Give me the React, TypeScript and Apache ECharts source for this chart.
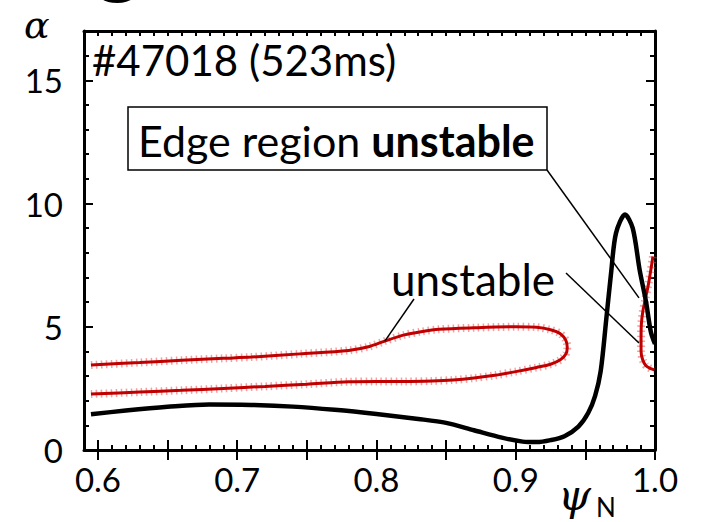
import React, { useEffect, useRef } from "react";
import * as echarts from "echarts";

// ψN / α axis ranges and tick labels
const xTickLabels = [0.6, 0.7, 0.8, 0.9, 1.0];
const xMajorTicks = [0.6, 0.65, 0.7, 0.75, 0.8, 0.85, 0.9, 0.95, 1.0];
const yTickLabels = [0, 5, 10, 15];
const yMajorTicks = [0, 5, 10, 15];

// Equilibrium pressure-gradient profile α(ψN)
const profilePsi = [
  0.595, 0.62, 0.65, 0.68, 0.71, 0.74, 0.77, 0.8, 0.83, 0.85, 0.87, 0.89, 0.905, 0.915,
  0.925, 0.935, 0.945, 0.952, 0.957, 0.961, 0.965, 0.9685, 0.972, 0.9785, 0.984, 0.989,
  0.9936, 0.997, 1.0,
];
const profileAlpha = [
  1.45, 1.6, 1.75, 1.85, 1.83, 1.76, 1.63, 1.46, 1.26, 1.1, 0.8, 0.5, 0.34, 0.32,
  0.4, 0.56, 0.95, 1.5, 2.2, 3.2, 5.3, 7.2, 8.8, 9.55, 9.0, 7.3,
  6.0, 4.8, 4.3,
];

// Marginal-stability boundary, core unstable band (upper branch → tip → lower branch)
const corePsi = [
  0.595, 0.63, 0.66, 0.69, 0.71, 0.745, 0.78, 0.795, 0.806, 0.82, 0.832, 0.845, 0.87, 0.9,
  0.915, 0.925, 0.932, 0.936, 0.937, 0.936, 0.932, 0.925, 0.915, 0.9, 0.885, 0.87, 0.855,
  0.84, 0.82, 0.8, 0.78, 0.75, 0.72, 0.69, 0.66, 0.63, 0.595,
];
const coreAlpha = [
  3.45, 3.55, 3.64, 3.72, 3.77, 3.9, 4.04, 4.2, 4.42, 4.67, 4.8, 4.9, 4.96, 5.0,
  4.98, 4.88, 4.72, 4.45, 4.15, 3.9, 3.66, 3.48, 3.35, 3.18, 3.03, 2.92, 2.84,
  2.8, 2.78, 2.78, 2.77, 2.67, 2.58, 2.5, 2.42, 2.35, 2.27,
];

// Marginal-stability boundary, edge unstable region
const edgePsi = [0.9985, 0.997, 0.9952, 0.993, 0.9912, 0.9902, 0.99, 0.99, 0.9912, 0.9935, 0.997, 0.9995];
const edgeAlpha = [7.85, 7.3, 6.7, 6.1, 5.6, 5.1, 4.5, 4.0, 3.65, 3.42, 3.3, 3.25];

const FONT = "Lato, 'Noto Sans', sans-serif";
const GREEK = "'DejaVu Serif', 'Noto Sans', serif";

const pairs = (xs: number[], ys: number[]) => xs.map((x, i) => [x, ys[i]]);

const tickStyle = { color: "#000", width: 2 };

function xAxes() {
  const base = { type: "value", min: 0.59, max: 1.0, gridIndex: 0, splitLine: { show: false } };
  return [
    {
      ...base,
      position: "bottom",
      interval: 0.01,
      axisLine: { show: true, onZero: false, lineStyle: { color: "#000", width: 3 } },
      axisTick: { show: true, inside: true, length: 5, interval: 0, lineStyle: tickStyle },
      axisLabel: {
        show: true,
        customValues: xTickLabels,
        formatter: (v: number) => v.toFixed(1),
        fontSize: 33,
        fontFamily: FONT,
        color: "#000",
        margin: 12,
      },
    },
    {
      ...base,
      position: "bottom",
      axisLine: { show: false },
      axisTick: { show: true, inside: true, length: 10, customValues: xMajorTicks, lineStyle: tickStyle },
      axisLabel: { show: false },
    },
    {
      ...base,
      position: "top",
      interval: 0.01,
      axisLine: { show: true, onZero: false, lineStyle: { color: "#000", width: 3 } },
      axisTick: { show: true, inside: true, length: 5, interval: 0, lineStyle: tickStyle },
      axisLabel: { show: false },
    },
    {
      ...base,
      position: "top",
      axisLine: { show: false },
      axisTick: { show: true, inside: true, length: 10, customValues: xMajorTicks, lineStyle: tickStyle },
      axisLabel: { show: false },
    },
  ];
}

function yAxes() {
  const base = { type: "value", min: 0, max: 17, gridIndex: 0, splitLine: { show: false } };
  return [
    {
      ...base,
      position: "left",
      interval: 1,
      axisLine: { show: true, onZero: false, lineStyle: { color: "#000", width: 3 } },
      axisTick: { show: true, inside: true, length: 5, interval: 0, lineStyle: tickStyle },
      axisLabel: {
        show: true,
        customValues: yTickLabels,
        fontSize: 33,
        fontFamily: FONT,
        color: "#000",
        margin: 21,
      },
    },
    {
      ...base,
      position: "left",
      axisLine: { show: false },
      axisTick: { show: true, inside: true, length: 9, customValues: yMajorTicks, lineStyle: tickStyle },
      axisLabel: { show: false },
    },
    {
      ...base,
      position: "right",
      interval: 1,
      axisLine: { show: true, onZero: false, lineStyle: { color: "#000", width: 3 } },
      axisTick: { show: true, inside: true, length: 5, interval: 0, lineStyle: tickStyle },
      axisLabel: { show: false },
    },
    {
      ...base,
      position: "right",
      axisLine: { show: false },
      axisTick: { show: true, inside: true, length: 9, customValues: yMajorTicks, lineStyle: tickStyle },
      axisLabel: { show: false },
    },
  ];
}

// stability boundary: fuzzy asterisk-marker band under a solid dark red line
function boundarySeries(name: string, data: number[][]) {
  return [
    {
      name: name + "-markers",
      type: "line",
      data,
      smooth: 0.3,
      showSymbol: false,
      z: 2,
      lineStyle: { color: "rgba(225,70,70,0.5)", width: 8, type: [1.5, 3.5] },
    },
    {
      name,
      type: "line",
      data,
      smooth: 0.3,
      showSymbol: false,
      z: 3,
      lineStyle: { color: "#c00000", width: 3 },
    },
  ];
}

export default function App() {
  const ref = useRef<HTMLDivElement>(null);

  useEffect(() => {
    if (!ref.current) return;
    const chart = echarts.init(ref.current, null, { renderer: "svg", width: 702, height: 522 });

    chart.setOption({
      animation: false,
      backgroundColor: "#ffffff",
      grid: { left: 84, right: 47, top: 31, bottom: 72, containLabel: false },
      xAxis: xAxes(),
      yAxis: yAxes(),
      series: [
        ...boundarySeries("core", pairs(corePsi, coreAlpha)),
        ...boundarySeries("edge", pairs(edgePsi, edgeAlpha)),
        {
          name: "profile",
          type: "line",
          data: pairs(profilePsi, profileAlpha),
          smooth: 0.3,
          showSymbol: false,
          z: 4,
          lineStyle: { color: "#000", width: 4.5 },
        },
      ],
    });

    const px = (x: number, y: number) =>
      chart.convertToPixel({ xAxisIndex: 0, yAxisIndex: 0 }, [x, y]) as number[];
    const coreTip = px(0.806, 4.42);
    const edgeUpper = px(0.9885, 6.17);
    const edgeLower = px(0.9885, 4.34);

    const lineStyle = { stroke: "#000", lineWidth: 1.5 };

    chart.setOption({
      graphic: [
        // cropped descender of the slide heading above
        {
          type: "text",
          left: 94,
          top: -96,
          style: { text: "g", font: `92px ${FONT}`, fill: "#000" },
          z: 10,
        },
        {
          type: "text",
          x: 24,
          y: 25,
          style: {
            text: "α",
            font: `italic 38px ${GREEK}`,
            fill: "#000",
            verticalAlign: "middle",
          },
          z: 10,
        },
        {
          type: "text",
          x: 558,
          y: 495,
          style: {
            text: "ψ",
            font: `italic 42px ${GREEK}`,
            fill: "#000",
            verticalAlign: "middle",
          },
          z: 10,
        },
        {
          type: "text",
          x: 596,
          y: 507,
          style: { text: "N", font: `26px ${FONT}`, fill: "#000", verticalAlign: "middle" },
          z: 10,
        },
        {
          type: "text",
          x: 92,
          y: 60,
          style: {
            text: "#47018 (523ms)",
            font: `42px ${FONT}`,
            fill: "#000",
            verticalAlign: "middle",
          },
          z: 10,
        },
        {
          type: "rect",
          shape: { x: 128, y: 107, width: 419, height: 63 },
          style: { fill: "#fff", stroke: "#000", lineWidth: 1.5 },
          z: 10,
        },
        {
          type: "text",
          x: 138,
          y: 140,
          style: {
            text: "{n|Edge region }{b|unstable}",
            verticalAlign: "middle",
            rich: {
              n: { fontFamily: FONT, fontSize: 43, fill: "#000", color: "#000" },
              b: { fontFamily: FONT, fontSize: 43, fontWeight: "bold", fill: "#000", color: "#000" },
            },
          },
          z: 11,
        },
        {
          type: "text",
          x: 391,
          y: 279,
          style: { text: "unstable", font: `44px ${FONT}`, fill: "#000", verticalAlign: "middle" },
          z: 10,
        },
        { type: "line", shape: { x1: 547, y1: 170, x2: edgeUpper[0], y2: edgeUpper[1] }, style: lineStyle, z: 10 },
        { type: "line", shape: { x1: 566, y1: 273, x2: edgeLower[0], y2: edgeLower[1] }, style: lineStyle, z: 10 },
        { type: "line", shape: { x1: 414, y1: 299, x2: coreTip[0], y2: coreTip[1] }, style: lineStyle, z: 10 },
      ],
    });

    return () => chart.dispose();
  }, []);

  return (
    <div
      ref={ref}
      style={{ position: "fixed", left: 0, top: 0, width: 702, height: 522, background: "#fff" }}
    />
  );
}
